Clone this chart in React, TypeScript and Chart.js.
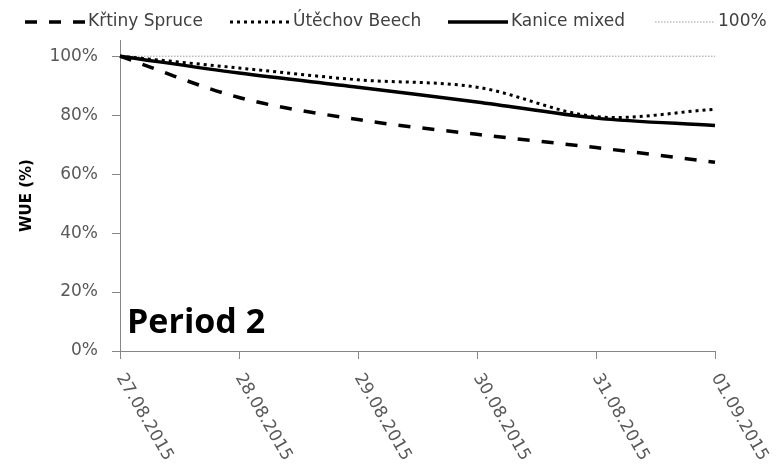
import React, { useEffect, useRef } from 'react';
import { Chart, registerables } from 'chart.js';

Chart.register(...registerables);

// Daily dates on the x axis
const dateLabels = ['27.08.2015', '28.08.2015', '29.08.2015', '30.08.2015', '31.08.2015', '01.09.2015'];

// Relative WUE per site (% of the first day)
const krtinySpruce = [100, 86, 78.5, 73.5, 69, 64];
const utechovBeech = [100, 96, 92, 89.5, 79.5, 82];
const kaniceMixed = [100, 94.3, 89.5, 84.5, 79, 76.5];
const fullLevel = [100, 100, 100, 100, 100, 100];

const seriesNames = ['Křtiny Spruce', 'Útěchov Beech', 'Kanice mixed', '100%'];
const yTickValues = [0, 20, 40, 60, 80, 100];
const yTitle = 'WUE (%)';
const periodLabel = 'Period 2';

const AXIS_GREY = '#868686';
const TICK_TEXT = '#595959';

// Legend row drawn as line samples followed by the series name
const lineLegend = {
  id: 'lineLegend',
  afterDraw(chart: any, _args: any, opts: any) {
    const { ctx } = chart;
    ctx.save();
    ctx.font = opts.font;
    ctx.textBaseline = 'middle';
    ctx.textAlign = 'left';
    chart.data.datasets.forEach((ds: any, i: number) => {
      const x0 = opts.starts[i];
      const y = opts.y;
      ctx.beginPath();
      ctx.setLineDash(ds.borderDash || []);
      ctx.lineWidth = ds.borderWidth;
      ctx.strokeStyle = ds.borderColor;
      ctx.lineCap = 'butt';
      ctx.moveTo(x0, y);
      ctx.lineTo(x0 + opts.sampleWidth, y);
      ctx.stroke();
      ctx.setLineDash([]);
      ctx.fillStyle = opts.color;
      ctx.fillText(ds.label, x0 + opts.sampleWidth + opts.gap, y);
    });
    ctx.restore();
  },
};

// Date labels slanted clockwise, starting at each tick mark
const slantedDates = {
  id: 'slantedDates',
  afterDraw(chart: any, _args: any, opts: any) {
    const scale = chart.scales.x;
    const { ctx } = chart;
    ctx.save();
    ctx.font = opts.font;
    ctx.fillStyle = opts.color;
    ctx.textAlign = 'left';
    ctx.textBaseline = 'middle';
    scale.ticks.forEach((t: any, i: number) => {
      const x = scale.getPixelForTick(i);
      ctx.save();
      ctx.translate(x + opts.dx, scale.top + opts.dy);
      ctx.rotate((opts.angle * Math.PI) / 180);
      ctx.fillText(scale.getLabelForValue(t.value), 0, 0);
      ctx.restore();
    });
    ctx.restore();
  },
};

// Panel caption in the lower-left corner of the plot
const panelCaption = {
  id: 'panelCaption',
  afterDraw(chart: any, _args: any, opts: any) {
    const { ctx, chartArea } = chart;
    ctx.save();
    ctx.font = opts.font;
    ctx.fillStyle = opts.color;
    ctx.textAlign = 'left';
    ctx.textBaseline = 'alphabetic';
    ctx.fillText(opts.text, chartArea.left + opts.dx, chartArea.bottom - opts.dy);
    ctx.restore();
  },
};

export default function App() {
  const canvasRef = useRef<HTMLCanvasElement | null>(null);

  useEffect(() => {
    document.body.style.margin = '0';
    const canvas = canvasRef.current;
    if (!canvas) return;

    const chart = new Chart(canvas, {
      type: 'line',
      data: {
        labels: dateLabels,
        datasets: [
          {
            label: seriesNames[0],
            data: krtinySpruce,
            borderColor: '#000000',
            borderWidth: 3.5,
            borderDash: [12, 12],
            pointRadius: 0,
            tension: 0.33,
            fill: false,
          },
          {
            label: seriesNames[1],
            data: utechovBeech,
            borderColor: '#000000',
            borderWidth: 3,
            borderDash: [3, 4],
            pointRadius: 0,
            tension: 0.33,
            fill: false,
          },
          {
            label: seriesNames[2],
            data: kaniceMixed,
            borderColor: '#000000',
            borderWidth: 3.5,
            pointRadius: 0,
            tension: 0.33,
            fill: false,
          },
          {
            label: seriesNames[3],
            data: fullLevel,
            borderColor: '#9a9a9a',
            borderWidth: 1,
            borderDash: [1.5, 1.5],
            pointRadius: 0,
            tension: 0,
            fill: false,
          },
        ],
      },
      options: {
        responsive: false,
        animation: false,
        devicePixelRatio: 1,
        layout: { padding: { top: 40, right: 66, bottom: 114, left: 0 } },
        scales: {
          x: {
            type: 'category',
            offset: false,
            grid: {
              display: true,
              drawOnChartArea: false,
              drawTicks: true,
              tickLength: 8,
              color: AXIS_GREY,
            },
            border: { display: true, color: AXIS_GREY, width: 1 },
            ticks: { display: false },
          },
          y: {
            min: 0,
            max: 105.5,
            afterBuildTicks: (scale: any) => {
              scale.ticks = yTickValues.map((v) => ({ value: v }));
            },
            afterFit: (scale: any) => {
              scale.width = 120;
            },
            grid: {
              display: true,
              drawOnChartArea: false,
              drawTicks: true,
              tickLength: 8,
              color: AXIS_GREY,
            },
            border: { display: true, color: AXIS_GREY, width: 1 },
            ticks: {
              padding: 14,
              color: TICK_TEXT,
              font: { family: 'DejaVu Sans', size: 17 },
              callback: (v: any) => `${v}%`,
            },
            title: {
              display: true,
              text: yTitle,
              color: '#000000',
              font: { family: 'DejaVu Sans', size: 15, weight: 'bold' },
              padding: { top: 18.5, bottom: 0 },
            },
          },
        },
        plugins: {
          legend: { display: false },
          tooltip: { enabled: false },
          lineLegend: {
            starts: [25, 230, 448, 655],
            sampleWidth: 60,
            gap: 3,
            y: 22,
            font: '17px "DejaVu Sans"',
            color: '#404040',
          },
          slantedDates: {
            font: '17px "DejaVu Sans"',
            color: TICK_TEXT,
            angle: 60,
            dx: 0,
            dy: 24,
          },
          panelCaption: {
            text: periodLabel,
            font: 'bold 34px "Open Sans"',
            color: '#000000',
            dx: 7,
            dy: 18,
          },
        } as any,
      },
      plugins: [lineLegend, slantedDates, panelCaption],
    });

    return () => chart.destroy();
  }, []);

  return (
    <div style={{ width: 781, height: 473, background: '#ffffff' }}>
      <canvas ref={canvasRef} width={781} height={473} />
    </div>
  );
}
